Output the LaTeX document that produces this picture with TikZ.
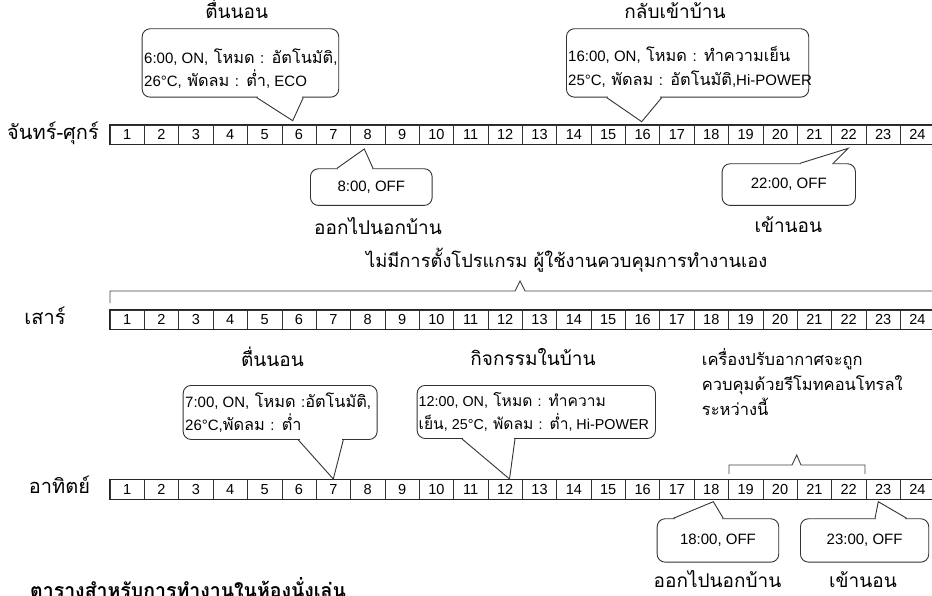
\documentclass[tikz,border=0pt]{standalone}
\usepackage{fontspec}
\setmainfont[Script=Thai]{Loma}
\newfontfamily\latf[Scale=0.92]{Liberation Sans}
\newcommand\lat[1]{{\latf #1}}
\usetikzlibrary{calc}
\newcommand\mycallptr[4]{%
  \draw[white,line width=2.6pt] (#2+1.3,0 |- #1) -- (#3-1.3,0 |- #1);
  \draw[ptrline] (#2,0 |- #1) -- (#4) -- (#3,0 |- #1);}
\begin{document}
\begin{tikzpicture}[x=1pt,y=-1pt,
  cell/.style={draw=black!80, line width=0.6pt, minimum width=34.36pt, minimum height=19.3pt, inner sep=0pt, font=\latf\fontsize{15.8}{15.8}\selectfont},
  bar/.style={draw=black!85, line width=1.3pt},
  callbox/.style={draw=black!80, line width=0.9pt, rounded corners=8pt, fill=white, inner sep=0pt, anchor=north west},
  ctext/.style={inner sep=0pt, anchor=base west, font=\fontsize{16.3}{20}\selectfont},
  offbox/.style={draw=black!80, line width=0.9pt, rounded corners=8pt, fill=white, align=center, inner sep=0pt, anchor=north west, font=\latf\fontsize{16.3}{17}\selectfont},
  ptrline/.style={draw=black!80, line width=0.9pt, line join=miter},
  lbl/.style={inner sep=0pt, anchor=base, font=\fontsize{19}{22}\selectfont},
  rowlbl/.style={inner sep=0pt, anchor=base, font=\fontsize{20}{20}\selectfont},
  brace/.style={draw=black!75, line width=0.9pt},
]
\useasboundingbox (0,0) rectangle (932,596);
% bars
\foreach \r/\yc in {a/134.65, b/319.65, c/489.35}{
  \foreach \i in {1,...,24}{
    \node[cell] (\r\i) at ({110+(\i-0.5)*34.36}, \yc) {\i};
  }
  \draw[bar] (\r1.north west) rectangle (\r24.south east);
}
% row labels
\node[rowlbl] (lwd) at (53,139.5) {จันทร์-ศุกร์};
\node[rowlbl] (lsa) at (45,324) {เสาร์};
\node[rowlbl] (lsu) at (59.5,493) {อาทิตย์};

% weekday callouts
\node[callbox, minimum width=196.6pt, minimum height=68.4pt] (cb1) at (141.7,28.3) {};
\node[ctext] (cb1a) at (144,63.5) {\lat{6:00, ON,} โหมด \lat{:} อัตโนมัติ\lat{,}};
\node[ctext] (cb1b) at (144,87) {\lat{26°C,} พัดลม \lat{:} ต่ำ\lat{, ECO}};
\coordinate (t1) at (292.7,120.7);
\mycallptr{cb1.south}{256.7}{303.3}{t1}
\node[offbox, minimum width=121.7pt, minimum height=36.7pt] (cb2) at (310,168.3) {8:00, OFF};
\coordinate (t2) at (364.3,149);
\mycallptr{cb2.north}{337}{373}{t2}
\node[callbox, minimum width=242.3pt, minimum height=68.4pt] (cb3) at (566,28.3) {};
\node[ctext] (cb3a) at (568,62) {\lat{16:00, ON,} โหมด \lat{:} ทำความเย็น};
\node[ctext] (cb3b) at (568,86) {\lat{25°C,} พัดลม \lat{:} อัตโนมัติ\lat{,Hi-POWER}};
\coordinate (t3) at (641.7,121.7);
\mycallptr{cb3.south}{606.7}{661.7}{t3}
\node[offbox, minimum width=133.3pt, minimum height=41.7pt] (cb4) at (721.7,163.3) {22:00, OFF};
\coordinate (t4) at (848.3,148.3);
\mycallptr{cb4.north}{800}{833.3}{t4}

\node[lbl] (l1) at (236.7,19) {ตื่นนอน};
\node[lbl] (l2) at (675,19) {กลับเข้าบ้าน};
\node[lbl] (l3) at (378,235) {ออกไปนอกบ้าน};
\node[lbl] (l4) at (788.3,233) {เข้านอน};

% saturday
\node[inner sep=0pt, anchor=base, font=\fontsize{18.3}{22}\selectfont] (sat) at (566.7,268) {ไม่มีการตั้งโปรแกรม ผู้ใช้งานควบคุมการทำงานเอง};
\draw[brace] (110,303) -- (110,291) -- (515,291) -- (520,281) -- (525,291) -- (940,291);

% sunday callouts
\node[callbox, minimum width=194pt, minimum height=54pt] (cb5) at (182.7,385) {};
\node[ctext] (cb5a) at (185,407) {\lat{7:00, ON,} โหมด \lat{:}อัตโนมัติ\lat{,}};
\node[ctext] (cb5b) at (185,430) {\lat{26°C,}พัดลม \lat{:} ต่ำ};
\coordinate (t5) at (333.3,479);
\mycallptr{cb5.south}{298.3}{343.3}{t5}
\node[callbox, minimum width=238.3pt, minimum height=53pt] (cb6) at (416.7,385) {};
\node[ctext, font=\fontsize{15.6}{20}\selectfont] (cb6a) at (418.5,406) {\lat{12:00, ON,} โหมด \lat{:} ทำความ};
\node[ctext, font=\fontsize{15.6}{20}\selectfont] (cb6b) at (418.5,429) {เย็น\lat{, 25°C,} พัดลม \lat{:} ต่ำ\lat{, Hi-POWER}};
\coordinate (t6) at (509.5,479);
\mycallptr{cb6.south}{462}{515}{t6}
\node[offbox, minimum width=121.6pt, minimum height=43.4pt] (cb7) at (656.7,518.3) {18:00, OFF};
\coordinate (t7) at (713.3,501.7);
\mycallptr{cb7.north}{673.3}{723.3}{t7}
\node[offbox, minimum width=128.3pt, minimum height=43.4pt] (cb8) at (800,518.3) {23:00, OFF};
\coordinate (t8) at (878.3,501.7);
\mycallptr{cb8.north}{875}{906.7}{t8}

\node[lbl] (l5) at (272.5,366.5) {ตื่นนอน};
\node[lbl] (l6) at (533,365) {กิจกรรมในบ้าน};
\node[inner sep=0pt, anchor=base west, font=\fontsize{16.5}{25}\selectfont] (rtxt1) at (701.7,365) {เครื่องปรับอากาศจะถูก};
\node[inner sep=0pt, anchor=base west, font=\fontsize{16.5}{25}\selectfont] (rtxt2) at (701.7,390) {ควบคุมด้วยรีโมทคอนโทรลใ};
\node[inner sep=0pt, anchor=base west, font=\fontsize{16.5}{25}\selectfont] (rtxt3) at (701.7,415) {ระหว่างนี้};
\draw[brace] (729,474) -- (729,465) -- (792,465) -- (796.7,455) -- (801,465) -- (865,465) -- (865,474);
\node[lbl] (l7) at (717.5,587) {ออกไปนอกบ้าน};
\node[lbl] (l8) at (863,587) {เข้านอน};

% title (cut off at the bottom edge, as in the reference)
\node[inner sep=0pt, anchor=base west, font=\bfseries\fontsize{19.5}{22}\selectfont] (title) at (30,597) {ตารางสำหรับการทำงานในห้องนั่งเล่น};
\end{tikzpicture}
\end{document}
